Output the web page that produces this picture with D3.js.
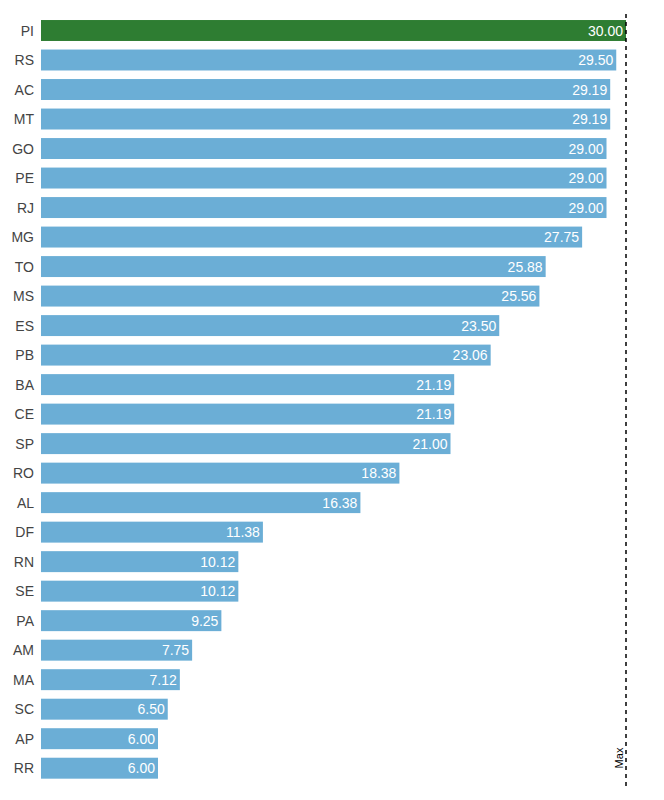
<!DOCTYPE html>
<html lang="en">
  <head>
    <meta charset="UTF-8" />
    <title>Chart</title>
    <style>
      body {
        margin: 0;
        background: #fff;
      }
      text {
        font-family: "Liberation Sans", Arial, sans-serif;
      }
    </style>
  </head>
  <body>
    <svg id="container" width="664" height="800">
      <g id="bars"></g>
      <g id="yAxis"></g>
    </svg>
  </body>
  <script src="https://cdn.jsdelivr.net/npm/d3@7"></script>
  <script>
    let states = ["PI", "RS", "AC", "MT", "GO", "PE", "RJ", "MG", "TO", "MS", "ES", "PB", "BA",
      "CE", "SP", "RO", "AL", "DF", "RN", "SE", "PA", "AM", "MA", "SC", "AP", "RR"];
    let values = [30.0, 29.5, 29.19, 29.19, 29.0, 29.0, 29.0, 27.75, 25.88, 25.56, 23.5, 23.06, 21.19,
      21.19, 21.0, 18.38, 16.38, 11.38, 10.12, 10.12, 9.25, 7.75, 7.12, 6.5, 6.0, 6.0];
    let maxLabel = "Max";

    let data = states.map((s, i) => ({ name: s, value: values[i] }));
    let max = d3.max(values);

    let x = d3.scaleLinear().domain([0, max]).range([41, 626]);
    let y = d3
      .scaleBand()
      .domain(states)
      .range([15.6, 783.1])
      .paddingInner(0.29)
      .paddingOuter(0.15);

    let svg = d3.select("#container");
    let bars = d3.select("#bars");

    bars
      .selectAll("rect")
      .data(data)
      .enter()
      .append("rect")
      .attr("x", x(0))
      .attr("y", (d) => y(d.name))
      .attr("width", (d) => x(d.value) - x(0))
      .attr("height", y.bandwidth())
      .style("fill", (d) => (d.value === max ? "#2e7d32" : "#6baed6"));

    bars
      .selectAll("text")
      .data(data)
      .enter()
      .append("text")
      .attr("x", (d) => x(d.value) - 3)
      .attr("y", (d) => y(d.name) + y.bandwidth() / 2)
      .attr("dy", "0.36em")
      .attr("text-anchor", "end")
      .style("font-size", "14px")
      .style("fill", "#fff")
      .text((d) => d.value.toFixed(2));

    // category labels
    let yAxis = d3.axisLeft(y).tickSize(0).tickPadding(7);
    let g = d3
      .select("#yAxis")
      .attr("transform", `translate(${x(0)},0)`)
      .call(yAxis);
    g.select(".domain").remove();
    g.selectAll("text")
      .attr("dy", "0.36em")
      .style("font-size", "14px")
      .style("fill", "#444")
      .style("font-family", '"Liberation Sans", Arial, sans-serif');

    // max reference line
    svg
      .append("line")
      .attr("x1", x(max))
      .attr("x2", x(max))
      .attr("y1", 14)
      .attr("y2", 786)
      .style("stroke", "#000")
      .style("stroke-width", 1.5)
      .style("stroke-dasharray", "4,4");

    svg
      .append("text")
      .attr("transform", `translate(${x(max) - 3},758) rotate(-90)`)
      .attr("text-anchor", "middle")
      .style("font-size", "11px")
      .style("fill", "#000")
      .text(maxLabel);
  </script>
</html>
